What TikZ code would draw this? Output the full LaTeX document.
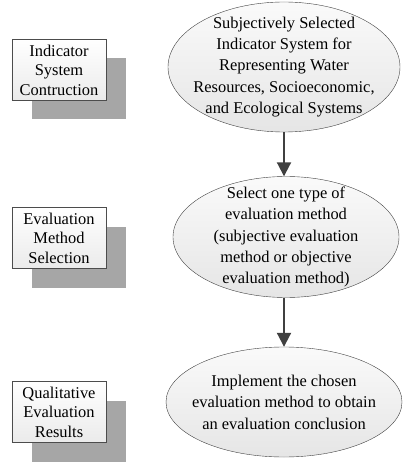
\documentclass[tikz,border=0pt]{standalone}
\usepackage{fontspec}
\setmainfont{Liberation Serif}
\usetikzlibrary{shapes.geometric, shadows, arrows.meta}

\begin{document}
\begin{tikzpicture}[x=1bp,y=-1bp]
	\tikzstyle{stage}=[ellipse, draw=black!75, top color=black!2, bottom color=black!10,
		align=center, inner xsep=-28bp, inner ysep=-12bp,
		font=\fontsize{16.5}{21.5}\selectfont]
	\tikzstyle{phase}=[rectangle, draw=black!70, top color=white, bottom color=black!8,
		minimum width=94bp, minimum height=61bp, inner sep=0pt, align=center,
		font=\fontsize{16.5}{19.5}\selectfont,
		drop shadow={shadow xshift=20bp, shadow yshift=-19bp, fill=black!35, opacity=1}]
	\tikzstyle{flow}=[draw=black!75, line width=2bp, -{Triangle[width=14bp,length=14bp]}]

	\useasboundingbox (0,0) rectangle (403,462);

	\node[phase] (ind) at (59,70) {Indicator\\System\\Contruction};
	\node[phase] (met) at (59,238) {Evaluation\\Method\\Selection};
	\node[phase] (res) at (59,412) {Qualitative\\Evaluation\\Results};

	\node[stage,minimum width=232bp,minimum height=130bp] (sys) at (284,67)
		{Subjectively Selected\\Indicator System for\\Representing Water\\Resources, Socioeconomic,\\and Ecological Systems};
	\node[stage,minimum width=226bp,minimum height=121bp] (sel) at (286,237)
		{Select one type of\\evaluation method\\(subjective evaluation\\method or objective\\evaluation method)};
	\node[stage,minimum width=236bp,minimum height=110bp] (imp) at (284,402)
		{Implement the chosen\\evaluation method to obtain\\an evaluation conclusion};

	\draw[flow] (sys.south -| imp) -- (sel.north -| imp);
	\draw[flow] (sel.south -| imp) -- (imp.north);
\end{tikzpicture}
\end{document}
